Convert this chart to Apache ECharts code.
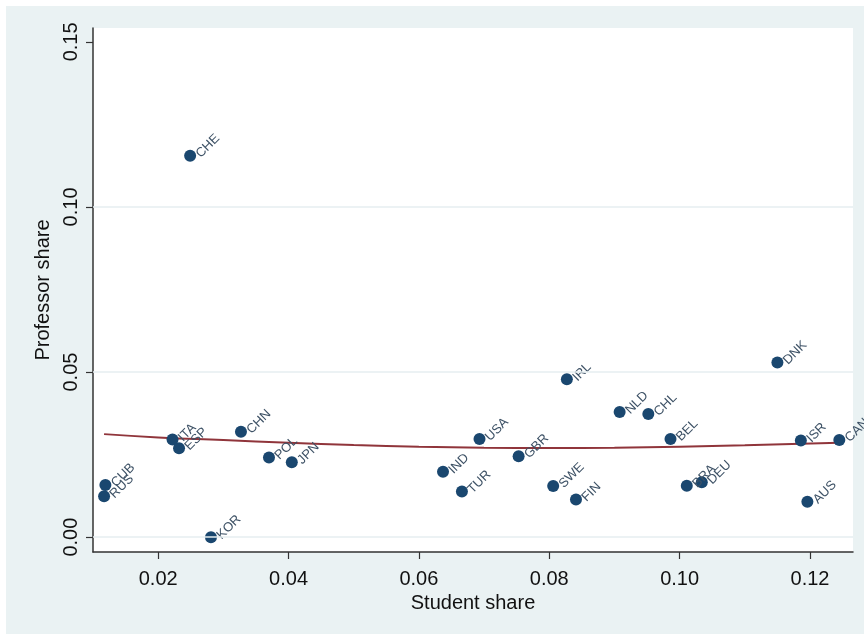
<!DOCTYPE html>
<html>
<head>
<meta charset="utf-8">
<script src="https://cdn.jsdelivr.net/npm/echarts@6/dist/echarts.min.js"></script>
<style>
  html, body { margin: 0; padding: 0; background: #fff; }
  #chart { width: 864px; height: 634px; }
</style>
</head>
<body>
<div id="chart"></div>
<script>
var countries = ['RUS', 'CUB', 'ITA', 'ESP', 'CHE', 'KOR', 'CHN', 'POL', 'JPN', 'IND', 'TUR', 'USA',
  'GBR', 'SWE', 'IRL', 'FIN', 'NLD', 'CHL', 'BEL', 'BRA', 'DEU', 'DNK', 'ISR', 'AUS', 'CAN'];
var studentShare = [0.0117, 0.0119, 0.0222, 0.0232, 0.0249, 0.0281, 0.0327, 0.0370, 0.0405, 0.0637, 0.0666, 0.0693,
  0.0753, 0.0806, 0.0827, 0.0841, 0.0908, 0.0952, 0.0986, 0.1011, 0.1034, 0.1150, 0.1186, 0.1196, 0.1245];
var professorShare = [0.0124, 0.0158, 0.0296, 0.0269, 0.1155, 0.0000, 0.0319, 0.0241, 0.0227, 0.0198, 0.0138, 0.0297,
  0.0245, 0.0155, 0.0478, 0.0114, 0.0379, 0.0373, 0.0297, 0.0156, 0.0166, 0.0529, 0.0293, 0.0107, 0.0294];

// fitted curve
var fitX = [0.0117, 0.02, 0.03, 0.04, 0.05, 0.06, 0.07, 0.08, 0.09, 0.10, 0.11, 0.1245];
var fitY = [0.0312, 0.0302, 0.0294, 0.0286, 0.0279, 0.0274, 0.0271, 0.0270, 0.0271, 0.0274, 0.0278, 0.0286];

var xTicks = [0.02, 0.04, 0.06, 0.08, 0.10, 0.12];
var yTicks = [0.00, 0.05, 0.10, 0.15];

var points = [];
for (var i = 0; i < countries.length; i++) {
  points.push([studentShare[i], professorShare[i], countries[i]]);
}
var fitLine = [];
for (var j = 0; j < fitX.length; j++) {
  fitLine.push([fitX[j], fitY[j]]);
}

var chart = echarts.init(document.getElementById('chart'));
var axisColor = '#333333';
var font = 'Liberation Sans, Arial, sans-serif';

var option = {
  backgroundColor: '#ffffff',
  animation: false,
  graphic: [{
    type: 'rect',
    z: -10,
    shape: { x: 6, y: 6, width: 858, height: 628 },
    style: { fill: '#eaf2f3' }
  }],
  grid: {
    left: 93,
    right: 11,
    top: 28,
    bottom: 82,
    show: true,
    backgroundColor: '#ffffff',
    borderWidth: 0
  },
  xAxis: {
    type: 'value',
    min: 0.01,
    max: 0.1266,
    name: 'Student share',
    nameLocation: 'middle',
    nameGap: 36,
    nameTextStyle: { fontSize: 20, color: '#111', fontFamily: font },
    axisLine: { show: true, onZero: false, lineStyle: { color: axisColor, width: 1.5 } },
    axisTick: { show: true, length: 7, customValues: xTicks, lineStyle: { color: axisColor, width: 1.2 } },
    axisLabel: {
      customValues: xTicks,
      margin: 17,
      fontSize: 20,
      color: '#111',
      fontFamily: font,
      formatter: function(v) { return v.toFixed(2); }
    },
    splitLine: { show: false }
  },
  yAxis: {
    type: 'value',
    min: -0.0045,
    max: 0.1542,
    name: 'Professor share',
    nameLocation: 'middle',
    nameGap: 38,
    nameTextStyle: { fontSize: 20, color: '#111', fontFamily: font },
    axisLine: { show: true, onZero: false, lineStyle: { color: axisColor, width: 1.5 } },
    axisTick: { show: true, length: 7, customValues: yTicks, lineStyle: { color: axisColor, width: 1.2 } },
    axisLabel: {
      customValues: yTicks,
      rotate: 90,
      margin: 12,
      fontSize: 20,
      color: '#111',
      fontFamily: font,
      formatter: function(v) { return v.toFixed(2); }
    },
    splitLine: { show: false }
  },
  series: [
    {
      type: 'line',
      data: fitLine,
      smooth: true,
      symbol: 'none',
      z: 3,
      lineStyle: { color: '#90353b', width: 2 },
      markLine: {
        silent: true,
        symbol: 'none',
        label: { show: false },
        lineStyle: { color: '#e6eef0', width: 1.5, type: 'solid' },
        data: [{ yAxis: 0 }, { yAxis: 0.05 }, { yAxis: 0.10 }]
      }
    },
    {
      type: 'scatter',
      data: points,
      symbolSize: 12,
      z: 4,
      itemStyle: { color: '#1a476f', opacity: 1 },
      label: {
        show: true,
        position: 'right',
        distance: 2,
        rotate: 45,
        formatter: function(p) { return p.data[2]; },
        fontSize: 13,
        color: '#3e5266',
        fontFamily: font
      },
      labelLayout: { hideOverlap: false }
    }
  ]
};

chart.setOption(option);
</script>
</body>
</html>
